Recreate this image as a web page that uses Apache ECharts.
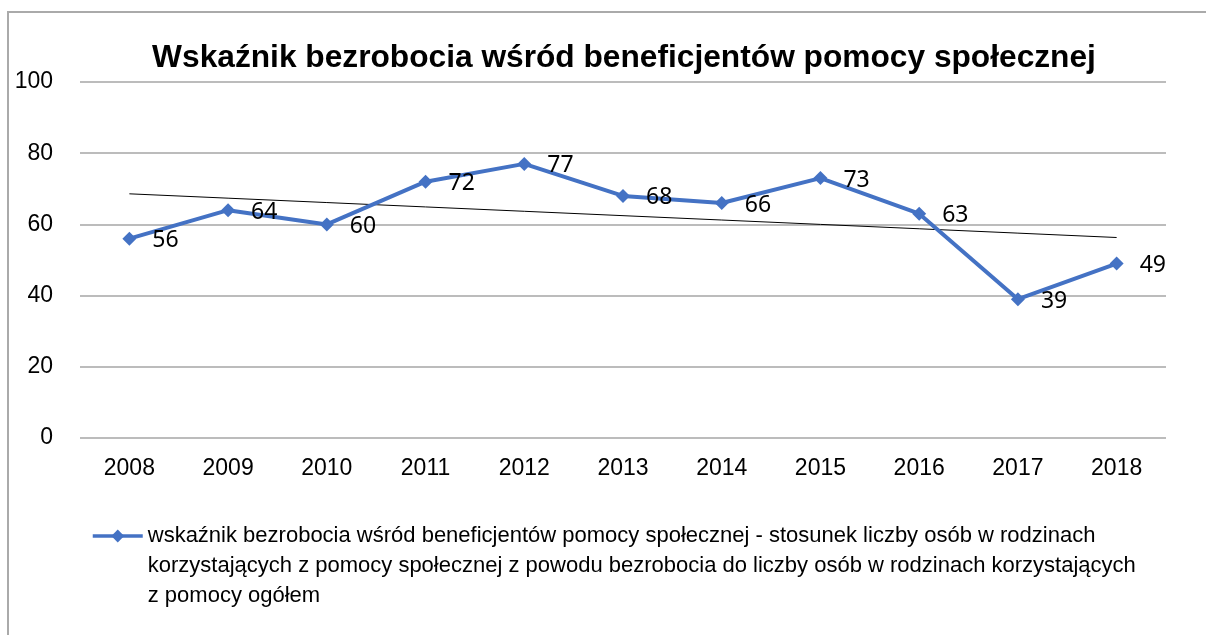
<!DOCTYPE html>
<html>
<head>
<meta charset="utf-8">
<title>Wskaźnik bezrobocia</title>
<script src="https://cdn.jsdelivr.net/npm/echarts@6/dist/echarts.min.js"></script>
<style>
  html, body { margin: 0; padding: 0; background: #fff; }
  #chart { width: 1206px; height: 635px; }
</style>
</head>
<body>
<div id="chart"></div>
<script>
const years = ['2008', '2009', '2010', '2011', '2012', '2013', '2014', '2015', '2016', '2017', '2018']
const values = [56, 64, 60, 72, 77, 68, 66, 73, 63, 39, 49]
const yTicks = [0, 20, 40, 60, 80, 100]

const seriesName = 'wskaźnik bezrobocia wśród beneficjentów pomocy społecznej - stosunek liczby osób w rodzinach\n' +
  'korzystających z pomocy społecznej z powodu bezrobocia do liczby osób w rodzinach korzystających\n' +
  'z pomocy ogółem'

// linear trend line (least squares), like the Excel trendline
const n = values.length
const meanX = (n - 1) / 2
const meanY = values.reduce((a, b) => a + b, 0) / n
let sxy = 0
let sxx = 0
values.forEach((v, i) => {
  sxy += (i - meanX) * (v - meanY)
  sxx += (i - meanX) * (i - meanX)
})
const slope = sxy / sxx
const trend = values.map((v, i) => meanY + slope * (i - meanX))

const chart = echarts.init(document.getElementById('chart'))

const option = {
  animation: false,
  backgroundColor: '#fff',
  title: {
    text: 'Wskaźnik bezrobocia wśród beneficjentów pomocy społecznej',
    left: 619,
    textAlign: 'center',
    top: 37,
    textStyle: {
      fontFamily: 'Liberation Sans',
      fontSize: 31.7,
      fontWeight: 'bold',
      color: '#000'
    }
  },
  graphic: [
    {
      type: 'rect',
      shape: { x: 8, y: 12, width: 1300, height: 700 },
      style: { fill: 'none', stroke: '#aaaaaa', lineWidth: 2 },
      silent: true
    }
  ],
  legend: {
    left: 86,
    top: 456,
    itemWidth: 50,
    itemHeight: 16,
    data: [seriesName],
    lineStyle: { width: 3.5 },
    // two empty lines on top keep the icon level with the first text line
    formatter: name => '\n\n' + name,
    textStyle: {
      fontFamily: 'Liberation Sans',
      fontSize: 22,
      lineHeight: 30,
      color: '#000'
    }
  },
  grid: {
    left: 80,
    right: 40,
    top: 82,
    bottom: 197
  },
  xAxis: {
    type: 'category',
    data: years,
    boundaryGap: true,
    axisLine: { show: false },
    axisTick: { show: false },
    axisLabel: {
      margin: 19,
      fontFamily: 'Liberation Sans',
      fontSize: 23,
      color: '#000'
    }
  },
  yAxis: {
    type: 'value',
    min: yTicks[0],
    max: yTicks[yTicks.length - 1],
    interval: 20,
    axisLine: { show: false },
    axisTick: { show: false },
    splitLine: { lineStyle: { color: '#a6a6a6', width: 1.5 } },
    axisLabel: {
      margin: 27,
      fontFamily: 'Liberation Sans',
      fontSize: 23,
      color: '#000'
    }
  },
  series: [
    {
      name: 'trend',
      type: 'line',
      data: trend,
      symbol: 'none',
      silent: true,
      lineStyle: { color: '#000', width: 1 },
      z: 1
    },
    {
      name: seriesName,
      type: 'line',
      data: values,
      symbol: 'diamond',
      symbolSize: 14,
      itemStyle: { color: '#4472c4' },
      lineStyle: { color: '#4472c4', width: 4 },
      label: {
        show: true,
        position: 'right',
        distance: 16,
        offset: [0, 2],
        fontFamily: 'Noto Sans',
        fontSize: 23,
        color: '#000'
      },
      z: 2
    }
  ]
}

chart.setOption(option)

window.addEventListener('resize', () => {
  chart.resize()
})
</script>
</body>
</html>
